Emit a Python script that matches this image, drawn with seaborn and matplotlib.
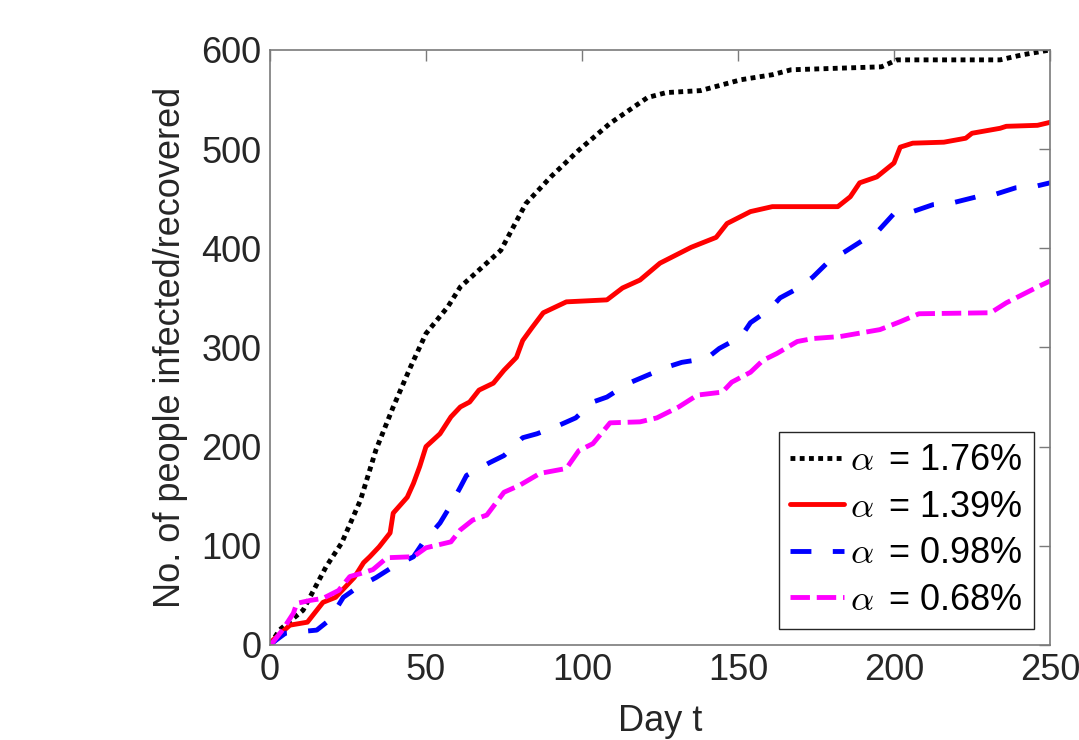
import numpy as np
import pandas as pd
import matplotlib
matplotlib.use("Agg")
import matplotlib.pyplot as plt
import seaborn as sns

# ----------------------------------------------------------
# DATA
# ----------------------------------------------------------

day_176 = [0, 3, 10.6, 18, 23, 29, 34, 39.5, 45, 50, 57, 61, 74, 82, 90, 99,
           109, 121, 127, 138, 151, 161, 167, 196, 201, 234, 241, 250]
val_176 = [0, 15, 35, 79, 103, 146, 197, 240, 280, 314, 341, 361, 398, 445,
           472, 499, 526, 552, 557, 559, 570, 575, 580, 583, 590, 590, 595, 600]

day_139 = [0, 1, 6.4, 12, 17, 21, 27, 30, 32, 35, 38.5, 39.5, 44, 46, 48, 50,
           54.5, 58, 61, 64, 67, 71.6, 75, 79, 81, 84, 87.6, 95, 108, 113, 118.6,
           125, 135, 143, 146.5, 154, 161, 182, 186, 189, 194.5, 200, 202, 206,
           216, 223, 225, 234, 236, 246, 250]
val_139 = [0, 5, 20, 23, 43, 48, 68, 83, 89, 99, 113, 133, 149, 163, 180, 200,
           213, 230, 240, 245, 257, 264, 277, 290, 307, 320, 335, 346, 348, 360,
           368, 385, 401, 411, 425, 437, 442, 442, 452, 466, 472, 486, 502, 506,
           507, 511, 516, 521, 523, 524, 527]

day_098 = [0, 2, 5, 15, 19, 23.5, 28, 34, 39.5, 46, 49, 54.5, 57, 61, 63, 70.5,
           75, 81, 85.6, 93, 98, 103.5, 108, 115, 121, 127, 132, 140, 144, 151,
           154, 160, 163.5, 170, 174, 179.5, 184, 190, 194.5, 200, 206, 212.5,
           219, 226.6, 232, 239, 246, 250]
val_098 = [0, 5, 12, 15, 25, 48, 58, 68, 79, 89, 103, 123, 136, 159, 171, 184,
           191, 209, 213, 222, 229, 245, 250, 264, 272, 280, 285, 289, 299, 311,
           325, 338, 350, 361, 371, 388, 396, 408, 416, 435, 437, 444, 446, 452,
           454, 461, 463, 466]

day_068 = [0, 1, 4, 7.5, 8.6, 13, 17, 22, 25.6, 29, 33, 37.5, 46, 50, 58, 61,
           65, 69.5, 75, 80, 86.5, 95, 99, 103.5, 109, 118.6, 124, 131, 137, 145,
           148, 154, 158, 162.5, 169, 174, 182.7, 195.5, 202, 208, 231, 236, 246,
           250]
val_068 = [0, 3, 15, 32, 42, 45, 47, 55, 69, 72, 76, 88, 89, 98, 104, 116, 126,
           131, 154, 161, 173, 178, 196, 203, 224, 225, 229, 240, 252, 255, 265,
           275, 287, 294, 306, 309, 311, 318, 326, 334, 335, 345, 361, 367]

labels = [r"$\alpha\,$ = 1.76%", r"$\alpha\,$ = 1.39%",
          r"$\alpha\,$ = 0.98%", r"$\alpha\,$ = 0.68%"]

# ----------------------------------------------------------
# PLOT
# ----------------------------------------------------------

sns.set_theme(style="white")
plt.rcParams["font.family"] = ["Liberation Sans", "DejaVu Sans"]
plt.rcParams["mathtext.fontset"] = "cm"

fig = plt.figure(figsize=(10.79, 7.40), dpi=100)
ax = fig.add_axes([0.2502, 0.1284, 0.7229, 0.8041])

series = [
    (day_176, val_176, "black", (0, (1, 0.9))),
    (day_139, val_139, "#ff0000", "-"),
    (day_098, val_098, "#0000ff", (0, (4.3, 4.4))),
    (day_068, val_068, "#ff00ff", (0, (4, 1.4))),
]

for (x, y, c, ls), lab in zip(series, labels):
    sns.lineplot(x=x, y=y, ax=ax, color=c, linewidth=3.5, linestyle=ls,
                 label=lab, sort=False, estimator=None)

for line in ax.get_lines():
    line.set_dash_capstyle("butt")

ax.set_xlim(0, 250)
ax.set_ylim(0, 600)
ax.set_xticks([0, 50, 100, 150, 200, 250])
ax.set_yticks([0, 100, 200, 300, 400, 500, 600])

ax.tick_params(direction="in", length=8, width=1, top=True, right=True,
               labelsize=26, pad=6, colors="#7a7a7a", labelcolor="#262626")
for sp in ax.spines.values():
    sp.set_color("#7a7a7a")
    sp.set_linewidth(1.2)

ax.set_xlabel("Day t", fontsize=26, color="#262626")
ax.set_ylabel("No. of people infected/recovered", fontsize=26, color="#262626")
ax.xaxis.set_label_coords(0.5, -0.1)
ax.yaxis.set_label_coords(-0.105, 0.5)

leg = ax.legend(loc="lower right", fontsize=26, frameon=True, fancybox=False,
                framealpha=1, edgecolor="#262626", handlelength=1.5,
                handletextpad=0.17, borderpad=0.3, labelspacing=0.32,
                borderaxespad=0.45, labelcolor="black")
leg.get_frame().set_linewidth(1.0)

fig.savefig("out.png", dpi=100)
